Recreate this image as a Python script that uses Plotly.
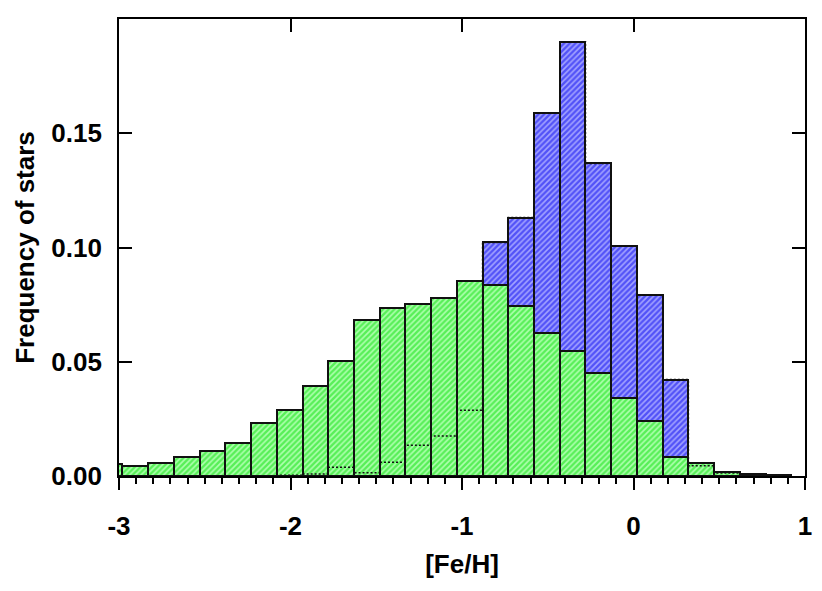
import plotly.graph_objects as go

# [Fe/H] bin centres (bin width 0.15)
feh_centers = [-3.055, -2.905, -2.755, -2.605, -2.455, -2.305, -2.155, -2.005,
               -1.855, -1.705, -1.555, -1.405, -1.255, -1.105, -0.955, -0.805,
               -0.655, -0.505, -0.355, -0.205, -0.055, 0.095, 0.245, 0.395,
               0.545, 0.695, 0.845]
bin_width = 0.15

# blue histogram (drawn behind)
freq_blue = [0.0, 0.0, 0.0, 0.0, 0.0, 0.0, 0.0001, 0.0003,
             0.0009, 0.0038, 0.0014, 0.0060, 0.0135, 0.0175, 0.0288, 0.1022,
             0.1131, 0.1588, 0.1900, 0.1368, 0.1007, 0.0792, 0.0422, 0.0045,
             0.0013, 0.0006, 0.0004]

# green histogram (drawn in front)
freq_green = [0.0051, 0.0042, 0.0055, 0.0084, 0.0109, 0.0145, 0.0230, 0.0290,
              0.0395, 0.0502, 0.0681, 0.0737, 0.0754, 0.0778, 0.0852, 0.0838,
              0.0744, 0.0624, 0.0546, 0.0451, 0.0341, 0.0241, 0.0081, 0.0058,
              0.0016, 0.0009, 0.0006]

x_ticks = [-3, -2, -1, 0, 1]
x_ticktext = ["-3", "-2", "-1", "0", "1"]
y_ticks = [0.0, 0.05, 0.10, 0.15]

FONT = "Liberation Sans, Arial, Helvetica, sans-serif"
OUTLINE = dict(color="#111111", width=2)

fig = go.Figure()

fig.add_trace(go.Bar(
    x=feh_centers, y=freq_blue, width=bin_width,
    marker=dict(
        color="#a4a4ff", line=OUTLINE,
        pattern=dict(shape="/", fgcolor="#0000f0", bgcolor="#a4a4ff",
                     size=4, solidity=0.6),
    ),
    showlegend=False,
))

fig.add_trace(go.Bar(
    x=feh_centers, y=freq_green, width=bin_width,
    marker=dict(
        color="#b0ffb0", line=OUTLINE,
        pattern=dict(shape="/", fgcolor="#00e000", bgcolor="#b0ffb0",
                     size=4, solidity=0.6),
    ),
    showlegend=False,
))

# outline of the blue histogram showing through the green bars (dashed)
step_x = [c - bin_width / 2 for c in feh_centers] + [feh_centers[-1] + bin_width / 2]
step_y = freq_blue + [freq_blue[-1]]
fig.add_trace(go.Scatter(
    x=step_x, y=step_y, mode="lines", line_shape="hv",
    line=dict(color="#111111", width=1.5, dash="2px,2px"),
    xaxis="x2", yaxis="y", showlegend=False, hoverinfo="skip",
))

fig.update_layout(
    width=822, height=591,
    margin=dict(l=119, r=17, t=19, b=115),
    paper_bgcolor="white", plot_bgcolor="white",
    barmode="overlay", bargap=0,
    font=dict(family=FONT, size=26, color="black"),
    xaxis=dict(
        range=[-3, 1], tickvals=x_ticks, ticktext=x_ticktext,
        ticks="outside", ticklen=12, tickwidth=1.8, tickcolor="black",
        minor=dict(ticks="outside", ticklen=6, tickwidth=1.5, dtick=0.1,
                   tickcolor="black"),
        showline=True, linecolor="black", linewidth=1.8,
        showgrid=False, zeroline=False, automargin=False,
        tickfont=dict(family=FONT, size=26, weight="bold"),
        ticklabelstandoff=14,
        title=dict(text="[Fe/H]", font=dict(family=FONT, size=26, weight="bold"),
                   standoff=15),
    ),
    xaxis2=dict(
        range=[-3, 1], overlaying="x", side="top", tickvals=x_ticks,
        ticks="inside", ticklen=13, tickwidth=1.8, tickcolor="black",
        showticklabels=False, showline=True, linecolor="black", linewidth=1.8,
        showgrid=False, zeroline=False, automargin=False,
    ),
    yaxis=dict(
        range=[0, 0.2], tickvals=y_ticks, tickformat=".2f",
        ticks="inside", ticklen=13, tickwidth=1.8, tickcolor="black",
        showline=True, linecolor="black", linewidth=1.8, mirror="ticks",
        showgrid=False, zeroline=False, automargin=False,
        tickfont=dict(family=FONT, size=26, weight="bold"),
        ticklabelstandoff=10,
        title=dict(text="Frequency of stars",
                   font=dict(family=FONT, size=26, weight="bold"), standoff=9),
    ),
)

fig.write_html("out.html", config={"displayModeBar": False},
               post_script="document.body.style.margin='0';")
